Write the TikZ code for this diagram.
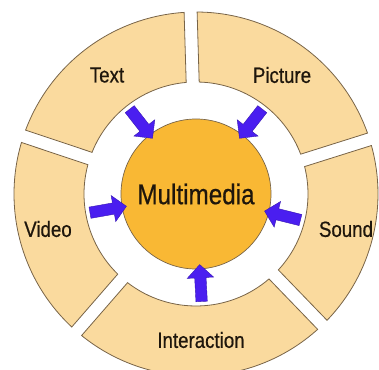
\documentclass[tikz,border=0pt]{standalone}
\usepackage{fontspec}
\setmainfont{Liberation Sans}[FakeStretch=0.85,FakeBold=0.6]
\usetikzlibrary{shapes.arrows}
\definecolor{segfill}{RGB}{250,218,158}
\definecolor{segline}{RGB}{120,100,72}
\definecolor{corefill}{RGB}{249,184,52}
\definecolor{arrowblue}{RGB}{74,30,240}
\definecolor{inkdark}{RGB}{30,22,12}

\begin{document}
\begin{tikzpicture}[x=1pt,y=1pt,
	segment/.style={fill=segfill,draw=segline,line width=0.8pt},
	seglabel/.style={text=inkdark,font=\fontsize{22}{26}\selectfont},
	core/.style={circle,fill=corefill,draw=segline,line width=0.7pt,minimum size=150pt,text=inkdark,font=\fontsize{28.5}{34}\selectfont},
	inarrow/.style={single arrow,fill=arrowblue,draw=arrowblue!75!black,line width=0.4pt,inner xsep=0pt,inner ysep=5.5pt,minimum height=37pt,single arrow head extend=7.5pt}]
	\useasboundingbox (-196,-175) rectangle (183,194);
	\clip (-196,-175) rectangle (183,194);
	\foreach \a/\b in {17.5/91.7,91.7/161.5,161.5/229,-131/-46,-46/17.5}{
		\draw[segment] ({\a+3.33}:112) -- ({\a+2.05}:182) arc[start angle=\a+2.05,end angle=\b-2.05,radius=182] -- ({\b-3.33}:112) arc[start angle=\b-3.33,end angle=\a+3.33,radius=112] -- cycle;
	}
	\node[core] (mm) at (0,0) {Multimedia};
	\node[seglabel] (text) at (-89,119) {Text};
	\node[seglabel] (picture) at (86,119) {Picture};
	\node[seglabel] (video) at (-148,-35) {Video};
	\node[seglabel] (sound) at (150,-35) {Sound};
	\node[seglabel] (interaction) at (5,-146) {Interaction};
	\foreach \ang/\nm in {128/textin,52/picin,190/vidin,-14/sndin,-87/intin}
		\node[inarrow,rotate=\ang+180] (\nm) at (\ang:92) {};
\end{tikzpicture}
\end{document}
